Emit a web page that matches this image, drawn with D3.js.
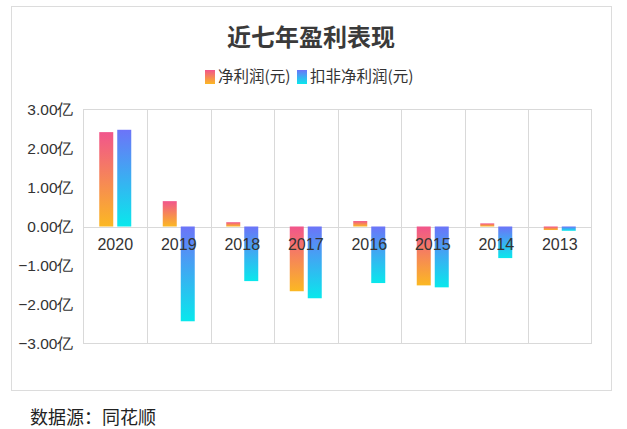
<!DOCTYPE html>
<html><head><meta charset="utf-8">
<script src="https://cdn.jsdelivr.net/npm/d3@7/dist/d3.min.js"></script>
<style>body{margin:0;background:#fff;}svg{display:block;font-family:"Noto Sans CJK SC","Noto Sans",sans-serif;}</style>
</head><body>
<script>
const categories = ["2020","2019","2018","2017","2016","2015","2014","2013"];
const netProfit = [2.42, 0.65, 0.11, -1.66, 0.14, -1.51, 0.08, -0.09];
const netProfitExcl = [2.48, -2.43, -1.40, -1.84, -1.45, -1.56, -0.81, -0.11];
const seriesNames = ["净利润(元)", "扣非净利润(元)"];
const yTicks = [3, 2, 1, 0, -1, -2, -3];

const W = 627, H = 429;
const svg = d3.select("body").append("svg").attr("width", W).attr("height", H);
const defs = svg.append("defs");
function grad(id, c1, c2){
  const g = defs.append("linearGradient").attr("id", id).attr("x1",0).attr("y1",0).attr("x2",0).attr("y2",1);
  g.append("stop").attr("offset","0%").attr("stop-color",c1);
  g.append("stop").attr("offset","100%").attr("stop-color",c2);
}
grad("g0", "#f1558c", "#fbb823");
grad("g1", "#6c74f8", "#09e8ec");

// outer frame
svg.append("rect").attr("x",11.5).attr("y",6.5).attr("width",600).attr("height",384)
  .attr("fill","none").attr("stroke","#dcdcdc");

svg.append("text").attr("x",311).attr("y",46).attr("text-anchor","middle")
  .attr("font-size",24).attr("font-weight","bold").attr("fill","#3a3a3a").text("近七年盈利表现");

// legend
const leg = svg.append("g");
const legItems = [{x:205, fill:"url(#g0)", t:seriesNames[0]}, {x:297, fill:"url(#g1)", t:seriesNames[1]}];
legItems.forEach(d=>{
  leg.append("rect").attr("x",d.x).attr("y",70).attr("width",10).attr("height",14).attr("fill",d.fill);
  leg.append("text").attr("x",d.x+13).attr("y",82).attr("font-size",15.5).attr("fill","#333").text(d.t);
});

const x0 = 83.5, x1 = 591.5, yTop = 109.5, yBot = 343.5;
const x = d3.scaleBand().domain(categories).range([x0, x1]);
const y = d3.scaleLinear().domain([3, -3]).range([yTop, yBot]);

const grid = svg.append("g").attr("stroke","#d9d9d9").attr("fill","none");
grid.append("rect").attr("x",x0).attr("y",yTop).attr("width",x1-x0).attr("height",yBot-yTop);
categories.slice(1).forEach(c=>{
  grid.append("line").attr("x1",Math.round(x(c))+0.5).attr("x2",Math.round(x(c))+0.5).attr("y1",yTop).attr("y2",yBot);
});
grid.append("line").attr("x1",x0).attr("x2",x1).attr("y1",Math.round(y(0))+0.5).attr("y2",Math.round(y(0))+0.5);

const bw = 14, gap = 4;
const series = [netProfit, netProfitExcl];
series.forEach((vals, si)=>{
  svg.append("g").selectAll("rect").data(vals).join("rect")
    .attr("x",(d,i)=> x(categories[i]) + x.bandwidth()/2 - (bw + gap/2) + si*(bw+gap))
    .attr("y", d=> y(Math.max(0,d)))
    .attr("width", bw)
    .attr("height", d=> Math.abs(y(d)-y(0)))
    .attr("fill", `url(#g${si})`);
});

// y axis labels
const yAxis = d3.axisLeft(y).tickValues(yTicks).tickSize(0).tickPadding(10)
  .tickFormat(d=>d3.format(".2f")(d)+"亿");
const ya = svg.append("g").attr("transform",`translate(${x0},0)`).call(yAxis);
ya.select(".domain").remove();
ya.selectAll("text").attr("font-size",15.5).attr("fill","#333").attr("font-family","inherit");

// x axis labels at zero line
const xAxis = d3.axisBottom(x).tickSize(0).tickPadding(12);
const xa = svg.append("g").attr("transform",`translate(0,${y(0)})`).call(xAxis);
xa.select(".domain").remove();
xa.selectAll("text").attr("font-size",16).attr("fill","#333").attr("font-family","inherit");

svg.append("text").attr("x",30).attr("y",424).attr("font-size",18).attr("fill","#222").text("数据源：同花顺");
</script>
</body></html>
